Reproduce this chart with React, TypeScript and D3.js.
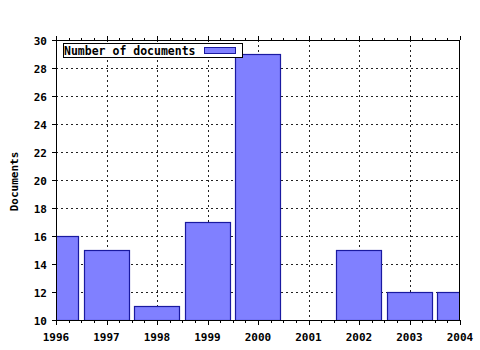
import React from "react";
import * as d3 from "d3";

const years = [1996, 1997, 1998, 1999, 2000, 2001, 2002, 2003, 2004];
const documents = [16, 15, 11, 17, 29, 0, 15, 12, 12];
const yTicks = [10, 12, 14, 16, 18, 20, 22, 24, 26, 28, 30];
const seriesName = "Number of documents";
const yTitle = "Documents";

const W = 480, H = 350;
const L = 56, R = 460, T = 40, B = 320;
const FONT = "'DejaVu Sans Mono', monospace";

export default function App() {
  const x = d3.scaleLinear().domain([1996, 2004]).range([L, R]);
  const y = d3.scaleLinear().domain([10, 30]).range([B, T]);
  const step = x(1997) - x(1996);
  const bw = step * 0.9;
  const minor: number[] = [];
  for (let i = 0; i < years.length - 1; i++) {
    for (let k = 1; k < 4; k++) minor.push(years[i] + k / 4);
  }
  const fill = "#8080ff";
  const stroke = "#1a1aa0";
  return (
    <svg width={W} height={H} style={{ position: "absolute", left: 0, top: 0, background: "#fff" }}>
      <defs>
        <clipPath id="plot">
          <rect x={L} y={T} width={R - L} height={B - T} />
        </clipPath>
      </defs>
      <rect x={0} y={0} width={W} height={H} fill="#fff" />
      {/* grid */}
      {yTicks.slice(1, -1).map((t) => (
        <line key={"gy" + t} x1={L} x2={R} y1={y(t) + 0.5} y2={y(t) + 0.5} stroke="#222" strokeDasharray="2,3" />
      ))}
      {years.slice(1, -1).map((yr) => (
        <line key={"gx" + yr} x1={Math.round(x(yr)) + 0.5} x2={Math.round(x(yr)) + 0.5} y1={T} y2={B} stroke="#222" strokeDasharray="2,3" />
      ))}
      {/* bars */}
      <g clipPath="url(#plot)">
        {years.map((yr, i) =>
          documents[i] > 10 ? (
            <rect
              key={"b" + yr}
              x={Math.round(x(yr) - bw / 2) + 0.5}
              y={Math.round(y(documents[i])) + 0.5}
              width={Math.round(bw)}
              height={Math.round(y(10) - y(documents[i]))}
              fill={fill}
              stroke={stroke}
              strokeWidth={1.2}
            />
          ) : null
        )}
      </g>
      {/* frame */}
      <line x1={L + 0.5} x2={L + 0.5} y1={T} y2={B + 1} stroke="#000" />
      <line x1={R - 0.5} x2={R - 0.5} y1={T} y2={B + 1} stroke="#000" />
      <line x1={L} x2={R} y1={T + 0.5} y2={T + 0.5} stroke="#000" />
      <line x1={L} x2={R} y1={B + 0.5} y2={B + 0.5} stroke="#000" />
      {/* y ticks */}
      {yTicks.map((t) => (
        <g key={"yt" + t}>
          <line x1={L - 4} x2={L} y1={y(t) + 0.5} y2={y(t) + 0.5} stroke="#000" />
          <text x={L - 9} y={y(t) + 5} textAnchor="end" fontFamily={FONT} fontWeight="bold" fontSize={11}>
            {t}
          </text>
        </g>
      ))}
      {/* x ticks */}
      {years.map((yr) => (
        <g key={"xt" + yr}>
          <line x1={Math.round(x(yr)) + 0.5} x2={Math.round(x(yr)) + 0.5} y1={B} y2={B + 5} stroke="#000" />
          <line x1={Math.round(x(yr)) + 0.5} x2={Math.round(x(yr)) + 0.5} y1={T - 4} y2={T} stroke="#000" />
          <text x={x(yr)} y={B + 21} textAnchor="middle" fontFamily={FONT} fontWeight="bold" fontSize={11}>
            {yr}
          </text>
        </g>
      ))}
      {minor.map((m, i) => (
        <g key={"mt" + i}>
          <line x1={Math.round(x(m)) + 0.5} x2={Math.round(x(m)) + 0.5} y1={B} y2={B + 3} stroke="#000" />
          <line x1={Math.round(x(m)) + 0.5} x2={Math.round(x(m)) + 0.5} y1={T - 2} y2={T} stroke="#000" />
        </g>
      ))}
      {/* y title */}
      <text transform="translate(17.5,181.5) rotate(-90)" textAnchor="middle" fontFamily={FONT} fontWeight="bold" fontSize={11}>
        {yTitle}
      </text>
      {/* legend */}
      <rect x={63.5} y={43.5} width={179} height={14} fill="#fff" stroke="#000" />
      <text x={64} y={55} fontFamily={FONT} fontWeight="bold" fontSize={11.5}>
        {seriesName}
      </text>
      <rect x={204.5} y={47.5} width={31} height={6} fill={fill} stroke={stroke} />
    </svg>
  );
}
